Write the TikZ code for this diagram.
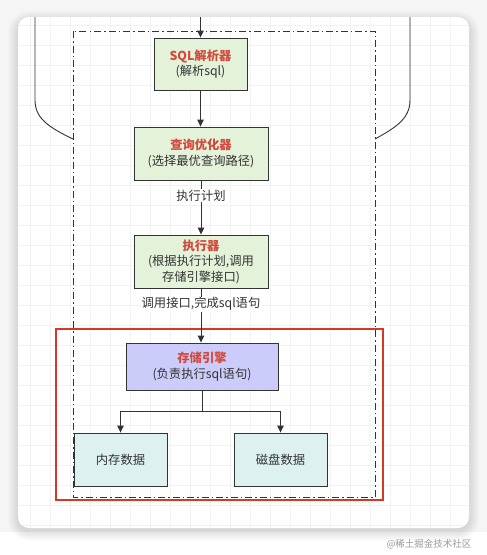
\documentclass[tikz,border=0pt]{standalone}
\usepackage{fontspec}
\setmainfont{Noto Sans CJK SC}
\usetikzlibrary{arrows.meta}
\definecolor{txt}{HTML}{333333}
\definecolor{ttl}{HTML}{D2493D}
\definecolor{gfill}{HTML}{E3F2D9}
\definecolor{pfill}{HTML}{CCCCFA}
\definecolor{cfill}{HTML}{DDF1F1}
\definecolor{redframe}{HTML}{D23A24}
\definecolor{bgc}{HTML}{F5F5F5}
\definecolor{gridc}{HTML}{F2F2F2}
\tikzset{
  box/.style={draw=txt, line width=0.9pt, text=txt, align=center, inner sep=0pt, font=\fontsize{12.3}{15.5}\selectfont},
  lbl/.style={fill=white, text=txt, inner sep=1pt, font=\fontsize{12.3}{14}\selectfont},
  arr/.style={draw=txt, line width=0.9pt, -{Triangle[length=7pt,width=6.5pt]}},
  plain/.style={draw=txt, line width=0.9pt},
}
\begin{document}
\begin{tikzpicture}[x=1pt,y=-1pt]
\useasboundingbox (0,0) rectangle (487,555);
\fill[bgc] (0,0) rectangle (487,555);
\fill[white] (0,532) rectangle (487,555);
% soft shadow
\foreach \i in {1,...,10}{
  \fill[black,opacity=0.012,rounded corners=12+\i] (18-\i,17-\i+4) rectangle (469+\i,528+\i+3);
}
\fill[white,rounded corners=11] (18,17) rectangle (469,528);
\begin{scope}
\clip[rounded corners=11] (18,17) rectangle (469,528);
\foreach \x in {30,50,...,470} \draw[gridc,line width=0.6pt] (\x,17) -- (\x,528);
\foreach \y in {25,45,...,528} \draw[gridc,line width=0.6pt] (18,\y) -- (469,\y);
\end{scope}
% outer curved lines
\draw[plain] (35,17) -- (35,100) .. controls (35,118) and (48,127) .. (73,139);
\draw[plain] (410,17) -- (410,100) .. controls (410,118) and (397,127) .. (375,139);
% dash-dot frame
\draw[txt,line width=0.9pt,dash pattern=on 7pt off 3pt on 1.5pt off 3pt] (73,31) rectangle (375,497);
% red frame
\draw[redframe,line width=2.6pt] (56,329) rectangle (383,500);
% boxes
\node[box,fill=gfill,minimum width=93pt,minimum height=52pt] (sql) at (200.5,64) {{\color{ttl}\bfseries SQL解析器}\\(解析sql)};
\node[box,fill=gfill,minimum width=134pt,minimum height=53pt] (opt) at (201,153.5) {{\color{ttl}\bfseries 查询优化器}\\(选择最优查询路径)};
\node[box,fill=gfill,minimum width=134pt,minimum height=53pt] (exe) at (201,261.5) {{\color{ttl}\bfseries 执行器}\\(根据执行计划,调用\\存储引擎接口)};
\node[box,fill=pfill,minimum width=152pt,minimum height=47pt] (eng) at (202,366.5) {{\color{ttl}\bfseries 存储引擎}\\(负责执行sql语句)};
\node[box,fill=cfill,minimum width=93pt,minimum height=53pt] (mem) at (120.5,459.5) {内存数据};
\node[box,fill=cfill,minimum width=93pt,minimum height=53pt] (disk) at (280.5,459.5) {磁盘数据};
% connectors
\coordinate (top) at (200.5,17);
\draw[arr] (top) -- (sql.north);
\draw[arr] (sql.south) -- (opt.north -| sql.south);
\draw[arr] (opt.south) -- node[lbl,pos=0.28] {执行计划} (exe.north);
\draw[arr] (exe.south) -- node[lbl,pos=0.29] {调用接口,完成sql语句} (eng.north -| exe.south);
\coordinate (br) at (202,411);
\draw[plain] (eng.south) -- (br);
\draw[arr] (br) -| (mem.north);
\draw[arr] (br) -| (disk.north);
% watermark
\node[text=black!40,font=\fontsize{9.5}{10}\selectfont] (wm) at (429,544) {@稀土掘金技术社区};
\end{tikzpicture}
\end{document}
